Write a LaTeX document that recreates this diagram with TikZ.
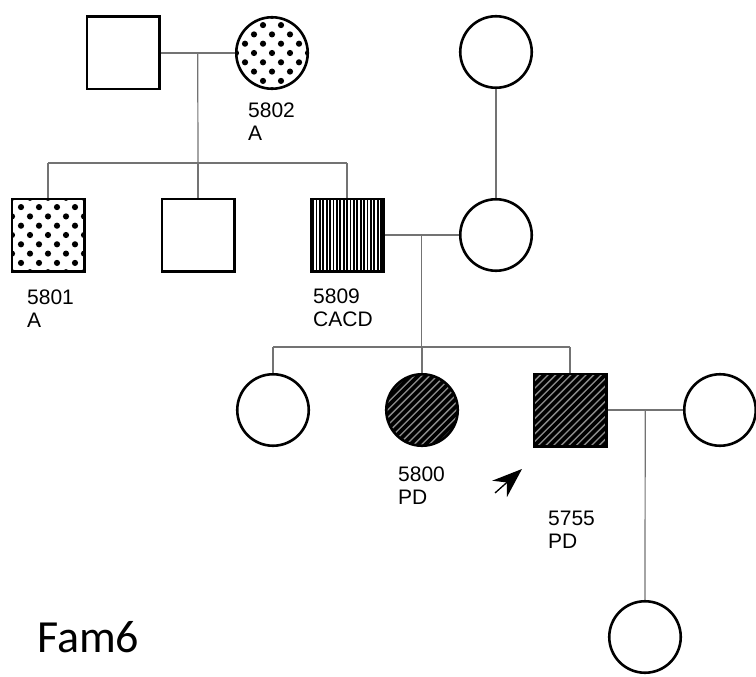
\documentclass[tikz,border=0pt]{standalone}
\usepackage{fontspec}
\setmainfont{Liberation Sans}
\newfontfamily\famfont{Carlito}
\usetikzlibrary{positioning,arrows.meta,calc}

\tikzset{
  male/.style={draw,line width=2.6pt,minimum size=72.4pt,inner sep=0pt},
  female/.style={draw,circle,line width=2.6pt,minimum size=71.5pt,inner sep=0pt},
  link/.style={draw=black!55,line width=1.2pt},
  idlabel/.style={anchor=north west,inner sep=0pt,align=left,
                  font=\fontsize{21}{22.5}\selectfont},
  dotfill/.style={path picture={
    \foreach \r in {-4,...,4}
      \foreach \c in {-3,...,3}
        \fill ([shift={({(\c*18+mod(\r,2)*9)*1pt},{\r*9.3pt})}]path picture bounding box.center) circle (3.1pt);
  }},
  stripefill/.style={path picture={
    \foreach \k in {-11,...,11}
      \draw[line width=1.8pt] ([shift={(\k*3.4pt,-40pt)}]path picture bounding box.center) -- ++(0pt,80pt);
  }},
  hatchfill/.style={fill=black!45,path picture={
    \foreach \k in {-14,...,14}
      \draw[line width=3.7pt] ([shift={(\k*7.6pt-45pt,-45pt)}]path picture bounding box.center) -- ++(90pt,90pt);
  }},
  proband/.style={line width=1.3pt,-{Stealth[length=30pt,width=22pt]}}
}

\begin{document}
\begin{tikzpicture}[x=1pt,y=-1pt]
  \useasboundingbox (0,0) rectangle (756,677);
  % Generation I
  \node[male] (f1) at (123,53) {};
  \node[female,dotfill] (m5802) at (272,53) {};
  \node[female] (gm) at (496,52) {};
  % Generation II
  \node[male,dotfill] (s5801) at (48,235) {};
  \node[male] (s2) at (198,235) {};
  \node[male,stripefill] (s5809) at (347,235) {};
  \node[female] (w1) at (496,235) {};
  % Generation III
  \node[female] (d1) at (273,410) {};
  \node[female,hatchfill] (d5800) at (422,410) {};
  \node[male,hatchfill] (s5755) at (570,410) {};
  \node[female] (w2) at (720,410) {};
  % Generation IV
  \node[female] (c1) at (645,637) {};

  % Connectors
  \coordinate (p1) at ($(f1.east)!0.5!(m5802.west)$);
  \coordinate (sib1) at (198,163);
  \draw[link] (f1.east) -- (m5802.west);
  \draw[link] (p1) -- (sib1);
  \draw[link] (sib1 -| s5801) -- (sib1 -| s5809);
  \foreach \n in {s5801,s2,s5809}
    \draw[link] (\n.north) -- (\n.north |- sib1);
  \draw[link] (gm.south) -- (w1.north);

  \coordinate (p2) at ($(s5809.east)!0.5!(w1.west)$);
  \coordinate (sib2) at ($(p2)+(0,112)$);
  \draw[link] (s5809.east) -- (w1.west);
  \draw[link] (p2) -- (sib2);
  \draw[link] (sib2 -| d1) -- (sib2 -| s5755);
  \foreach \n in {d1,d5800,s5755}
    \draw[link] (\n.north) -- (\n.north |- sib2);

  \coordinate (p3) at ($(s5755.east)!0.5!(w2.west)$);
  \draw[link] (s5755.east) -- (w2.west);
  \draw[link] (p3) -- (c1.north);

  % Labels
  \node[idlabel] (l5802) at (248,103) {5802\\A};
  \node[idlabel] (l5801) at (27,290) {5801\\A};
  \node[idlabel] (l5809) at (313,289) {5809\\CACD};
  \node[idlabel] (l5800) at (398,467) {5800\\PD};
  \node[idlabel] (l5755) at (548,511) {5755\\PD};

  % Proband arrow
  \coordinate (a0) at (495,493);
  \coordinate (a1) at (522,469);
  \draw[proband] (a0) -- (a1);

  \node[anchor=base west,inner sep=0pt,font=\famfont\fontsize{46}{50}\selectfont] (fam) at (37,652) {Fam6};
\end{tikzpicture}
\end{document}
